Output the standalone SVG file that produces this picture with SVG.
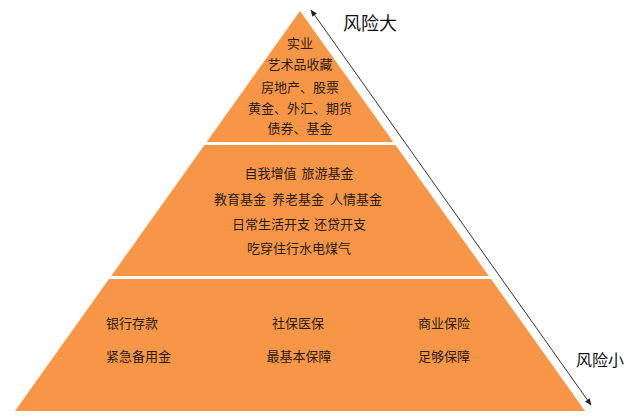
<svg xmlns="http://www.w3.org/2000/svg" width="640" height="419" viewBox="0 0 640 419">
  <style>
    .band { fill: #F79646; }
    .t { font-family: "Noto Sans CJK SC", "Microsoft YaHei", sans-serif; font-size: 13px; fill: #2a1c12; }
    .c { text-anchor: middle; }
    .lbl { font-family: "Noto Sans CJK SC", sans-serif; fill: #111; }
    .conn { stroke: #333; stroke-width: 1; fill: none; }
  </style>
  <defs>
    <marker id="ah" viewBox="0 0 10 10" refX="9" refY="5" markerWidth="7" markerHeight="7" orient="auto-start-reverse" markerUnits="userSpaceOnUse">
      <path d="M0,1 L10,5 L0,9 Z" fill="#222"/>
    </marker>
  </defs>
  <rect width="640" height="419" fill="#ffffff"/>

  <g id="top-tier">
    <polygon class="band" points="300,11 393.3,142 206.7,142"/>
    <text class="t c" x="300" y="48">实业</text>
    <text class="t c" x="300" y="69">艺术品收藏</text>
    <text class="t c" x="300" y="92">房地产、股票</text>
    <text class="t c" x="300" y="113">黄金、外汇、期货</text>
    <text class="t c" x="300" y="133">债券、基金</text>
  </g>

  <g id="middle-tier">
    <polygon class="band" points="204.5,145 395.5,145 488.8,276 111.2,276"/>
    <text class="t c" x="299" y="178" xml:space="preserve" word-spacing="2">自我增值 旅游基金</text>
    <text class="t c" x="298" y="204" xml:space="preserve" word-spacing="3">教育基金 养老基金 人情基金</text>
    <text class="t c" x="299" y="229" xml:space="preserve" word-spacing="1">日常生活开支 还贷开支</text>
    <text class="t c" x="299" y="253">吃穿住行水电煤气</text>
  </g>

  <g id="bottom-tier">
    <polygon class="band" points="109,279 491,279 585,411 15,411"/>
    <text class="t" x="106" y="328">银行存款</text>
    <text class="t" x="106" y="361">紧急备用金</text>
    <text class="t c" x="298" y="328">社保医保</text>
    <text class="t c" x="299" y="361">最基本保障</text>
    <text class="t" x="418" y="328">商业保险</text>
    <text class="t" x="418" y="361">足够保障</text>
  </g>

  <g id="connectors">
    <line class="conn" x1="591" y1="405" x2="311" y2="10" marker-start="url(#ah)" marker-end="url(#ah)"/>
  </g>

  <g id="label-high">
    <text class="lbl" x="343" y="30" font-size="18">风险大</text>
  </g>
  <g id="label-low">
    <text class="lbl" x="576" y="366" font-size="16">风险小</text>
  </g>
</svg>
